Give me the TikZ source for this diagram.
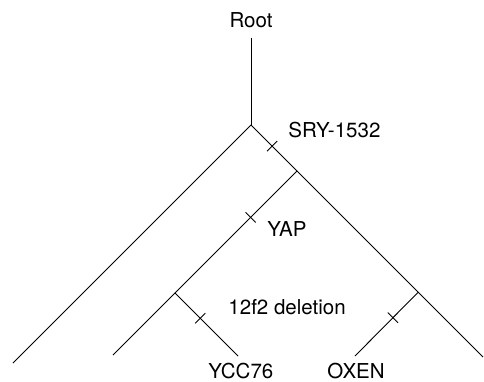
\documentclass[tikz,border=0pt]{standalone}
\usepackage{fontspec}
\setmainfont{TeX Gyre Heros}
\usepackage{tikz}
\usetikzlibrary{calc,positioning}
\tikzstyle{lbl}=[font=\fontsize{14.6}{16}\selectfont, anchor=base west]
\tikzstyle{cut}=[sloped, draw, shape=rectangle, minimum width=0pt, minimum height=3.6mm, inner sep=0pt]

\begin{document}
\begin{tikzpicture}[scale=1,inner sep=0.5mm,line width=0.65pt]
\useasboundingbox (-6.275,3.125) rectangle (5.825,-6.4);

% branch points
\coordinate (j0) at (0,0);
\coordinate (j1) at (1.15,-1.15);
\coordinate (j2) at (-1.9,-4.2);
\coordinate (j3) at (4.18,-4.18);
% leaf ends
\coordinate (l1) at (-5.95,-5.95);
\coordinate (l2) at (-3.45,-5.75);
\coordinate (l3) at (-0.325,-5.775);
\coordinate (l4) at (2.6,-5.775);
\coordinate (r) at (5.8,-5.8);

\node (root) [lbl,anchor=base] at (0,2.425) {Root};
\node (sry) [lbl] at (0.875,-0.3) {SRY-1532};
\node (yap) [lbl] at (0.35,-2.775) {YAP};
\node (del) [lbl] at (-0.625,-4.725) {12f2 deletion};
\node (ycc) [lbl] at (-1.125,-6.33) {YCC76};
\node (oxen) [lbl] at (1.85,-6.33) {OXEN};

\draw[shorten <=1.7mm] (root) -- (j0);
\draw (j0) -- (l1);
\draw (j0) -- node[cut,pos=0.46] {} (j1);
\draw (j1) -- (r);
\draw (j1) -- node[cut,pos=0.38] {} (j2);
\draw (j2) -- (l2);
\draw (j2) -- node[cut,pos=0.4] {} (l3);
\draw (j3) -- node[cut,pos=0.4] {} (l4);

\end{tikzpicture}
\end{document}
